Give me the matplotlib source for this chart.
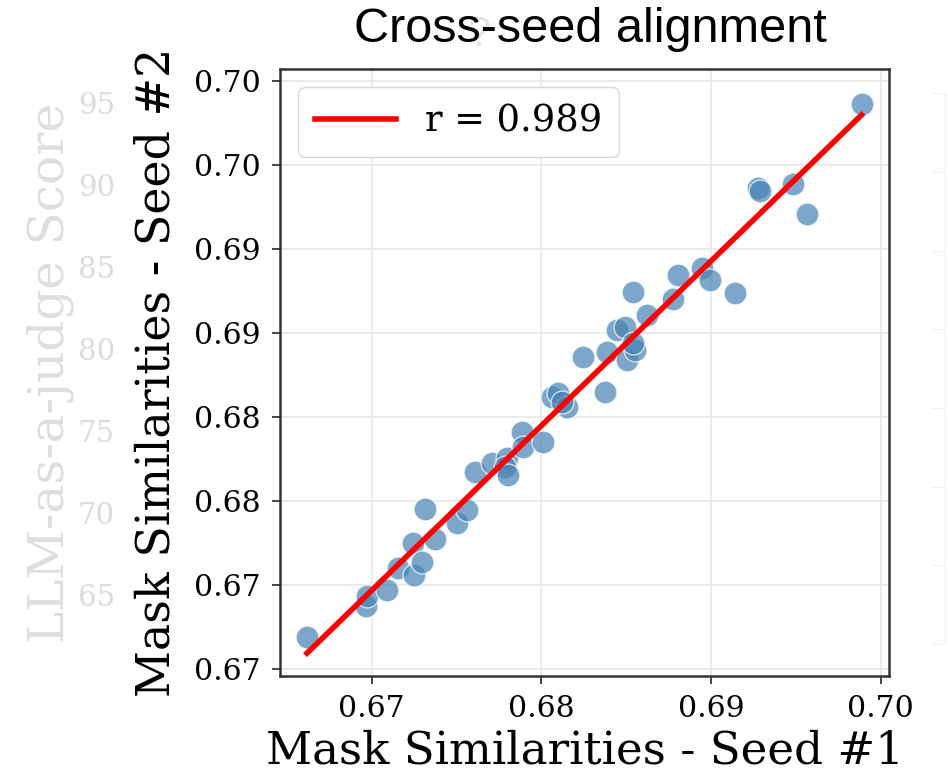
import numpy as np
import matplotlib
matplotlib.use("Agg")
import matplotlib.pyplot as plt

plt.rcParams['font.family'] = ['DejaVu Serif']

# mask similarity per sample, seed #1 vs seed #2
seed1 = [0.66619, 0.66966, 0.66972, 0.67090, 0.67155, 0.67243, 0.67249, 0.67296,
         0.67314, 0.67373, 0.67503, 0.67562, 0.67609, 0.67709, 0.67797, 0.67786,
         0.67803, 0.67885, 0.67891, 0.68009, 0.68062, 0.68098, 0.68151, 0.68121,
         0.68375, 0.68245, 0.68387, 0.68445, 0.68492, 0.68504, 0.68551, 0.68540,
         0.68540, 0.68622, 0.68775, 0.68805, 0.68946, 0.68993, 0.69141, 0.69276,
         0.69288, 0.69482, 0.69564, 0.69888]
seed2 = [0.66690, 0.66874, 0.66933, 0.66974, 0.67105, 0.67253, 0.67063, 0.67135,
         0.67455, 0.67277, 0.67372, 0.67449, 0.67674, 0.67728, 0.67757, 0.67704,
         0.67657, 0.67911, 0.67822, 0.67852, 0.68119, 0.68143, 0.68060, 0.68089,
         0.68149, 0.68356, 0.68386, 0.68516, 0.68534, 0.68338, 0.68398, 0.68439,
         0.68742, 0.68605, 0.68700, 0.68842, 0.68884, 0.68813, 0.68736, 0.69365,
         0.69347, 0.69388, 0.69210, 0.69862]
r_value = 0.989

xticks = [0.67, 0.68, 0.69, 0.70]
xtick_labels = ["0.67", "0.68", "0.69", "0.70"]
yticks = [0.665, 0.670, 0.675, 0.680, 0.685, 0.690, 0.695, 0.700]
ytick_labels = ["0.67", "0.67", "0.68", "0.68", "0.69", "0.69", "0.70", "0.70"]

# faded neighbour panel (left)
ghost_ticks = [65, 70, 75, 80, 85, 90, 95]

fig = plt.figure(figsize=(9.48, 7.76), dpi=100)

# ghost of the previous panel
gh = fig.add_axes([0.127, 0.1289, 0.01, 0.7822])
gh.set_ylim(60.06, 97.07)
gh.set_yticks(ghost_ticks)
gh.set_xticks([])
for s in gh.spines.values():
    s.set_visible(False)
gh.tick_params(axis='y', length=0, pad=4, labelsize=21, labelcolor='#dcdcdc')
gh.set_ylabel("LLM-as-a-judge Score", fontsize=35, color='#dedede', labelpad=3)
gh.patch.set_alpha(0)

# ghost of the next panel (right edge)
gr = fig.add_axes([0.997, 0.17, 0.1, 0.71])
gr.set_xticks([])
gr.set_yticks(np.linspace(0, 1, 8))
gr.set_yticklabels([])
for k, s in gr.spines.items():
    s.set_visible(k == 'left')
gr.spines['left'].set_color('#efefef')
gr.tick_params(axis='y', color='#f2f2f2', length=10)
gr.patch.set_alpha(0)

ax = fig.add_axes([0.2954, 0.1289, 0.6424, 0.7822])
ax.scatter(seed1, seed2, s=270, color='#4682b4', alpha=0.7,
           edgecolor='white', linewidth=1, zorder=3)

slope, intercept = np.polyfit(seed1, seed2, 1)
xs = np.array([min(seed1), max(seed1)])
ax.plot(xs, slope * xs + intercept, color='red', lw=4, zorder=4,
        label=f"r = {r_value:.3f}")

ax.set_xlim(0.6646, 0.7005)
ax.set_ylim(0.6646, 0.7007)
ax.set_xticks(xticks)
ax.set_xticklabels(xtick_labels)
ax.set_yticks(yticks)
ax.set_yticklabels(ytick_labels)
ax.grid(True, color='#e8e8e8', lw=1.2, zorder=0)
ax.set_axisbelow(True)
for s in ax.spines.values():
    s.set_color('#333333')
    s.set_linewidth(1.8)
ax.tick_params(length=6, width=1.3, color='#333333', labelsize=21.5, pad=8)

ax.set_xlabel("Mask Similarities - Seed #1", fontsize=32.5, labelpad=4)
ax.set_ylabel("Mask Similarities - Seed #2", fontsize=33, labelpad=10)

leg = ax.legend(loc='upper left', fontsize=26.5, handlelength=2.2,
                borderpad=0.45, framealpha=1, edgecolor='#d8d8d8')

fig.text(0.505, 0.955, "?", fontsize=30, color='#e4e4e4', ha='center', va='center',
         family='Liberation Sans')
fig.text(0.6225, 0.962, "Cross-seed alignment", fontsize=35, ha='center', va='center',
         family='Liberation Sans')

fig.savefig("out.png", dpi=100)
